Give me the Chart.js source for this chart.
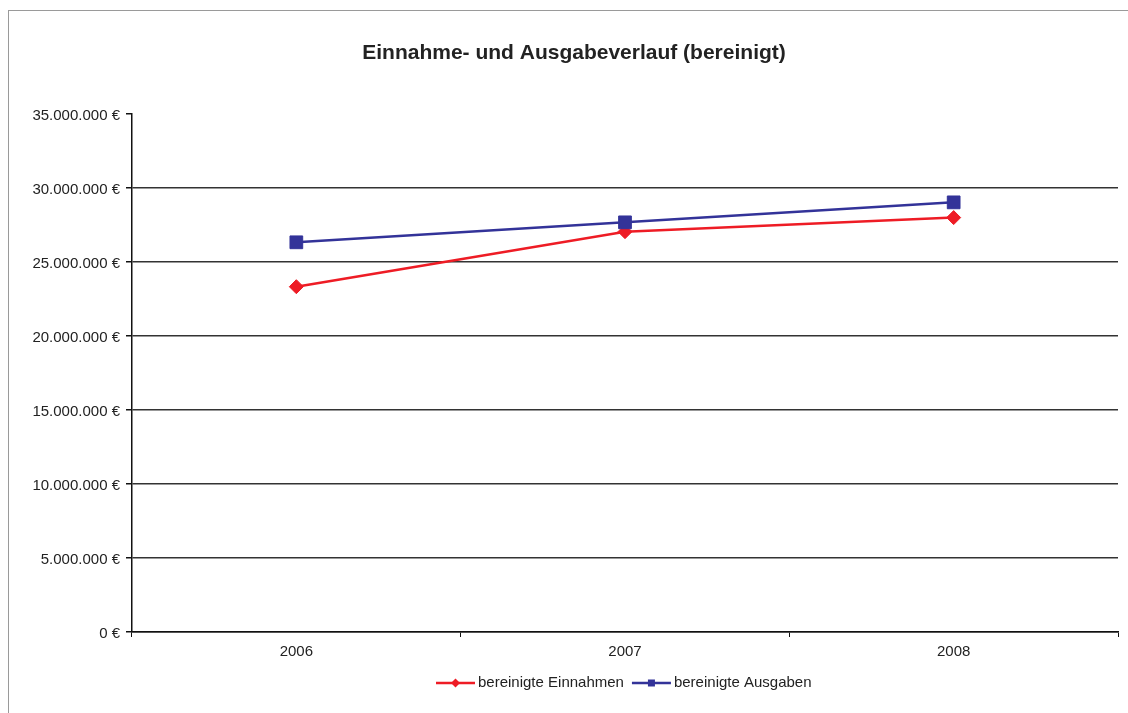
<!DOCTYPE html>
<html>
<head>
<meta charset="utf-8">
<script src="https://cdn.jsdelivr.net/npm/chart.js@4/dist/chart.umd.min.js"></script>
<style>
  html, body { margin: 0; padding: 0; background: #fff; }
  #wrap { width: 1128px; height: 713px; position: relative; }
</style>
</head>
<body>
<div id="wrap"><canvas id="c" width="1128" height="713"></canvas></div>
<script>
// ---- data ----
const chartTitle = 'Einnahme- und Ausgabeverlauf (bereinigt)';
const years = ['2006', '2007', '2008'];
const seriesNames = ['bereinigte Einnahmen', 'bereinigte Ausgaben'];
const einnahmen = [23330000, 27050000, 28000000];
const ausgaben = [26330000, 27680000, 29030000];
const yTicks = [0, 5000000, 10000000, 15000000, 20000000, 25000000, 30000000, 35000000];

const RED = '#ee1c25';
const BLUE = '#333399';
const FONT = "'Liberation Sans', Arial, sans-serif";

function fmtEuro(v) {
  return String(Math.round(v)).replace(/\B(?=(\d{3})+(?!\d))/g, '.') + ' €';
}

const framePlugin = {
  id: 'frame',
  beforeDraw(chart) {
    const ctx = chart.ctx;
    ctx.save();
    ctx.fillStyle = '#fff';
    ctx.fillRect(0, 0, chart.width, chart.height);
    ctx.strokeStyle = '#9a9a9a';
    ctx.lineWidth = 1;
    ctx.strokeRect(8.5, 10.5, 1200, 800);
    ctx.restore();
  },
  afterDraw(chart) {
    const ctx = chart.ctx;
    ctx.save();
    // title
    ctx.font = "bold 21px " + FONT;
    ctx.fillStyle = '#222';
    ctx.textAlign = 'center';
    ctx.textBaseline = 'middle';
    ctx.fillText(chartTitle, 574, 53);
    // legend
    ctx.font = "15px " + FONT;
    ctx.textAlign = 'left';
    const y = 683;
    let x = 436;
    chart.data.datasets.slice().sort((a, b) => a.legendIndex - b.legendIndex).forEach(ds => {
      ctx.strokeStyle = ds.borderColor;
      ctx.lineWidth = 2.5;
      ctx.beginPath();
      ctx.moveTo(x, y);
      ctx.lineTo(x + 39, y);
      ctx.stroke();
      ctx.fillStyle = ds.borderColor;
      const cx = x + 19.5;
      ctx.beginPath();
      if (ds.pointStyle === 'rectRot') {
        ctx.moveTo(cx - 4.5, y); ctx.lineTo(cx, y - 4.5); ctx.lineTo(cx + 4.5, y); ctx.lineTo(cx, y + 4.5);
      } else {
        ctx.rect(cx - 3.5, y - 3.5, 7, 7);
      }
      ctx.closePath();
      ctx.fill();
      ctx.fillStyle = '#222';
      ctx.fillText(ds.label, x + 42, y);
      x += 42 + ctx.measureText(ds.label).width + 8;
    });
    ctx.restore();
  }
};

new Chart(document.getElementById('c'), {
  type: 'line',
  data: {
    labels: years,
    datasets: [
      {
        label: seriesNames[0],
        data: einnahmen,
        legendIndex: 0,
        order: 2,
        borderColor: RED,
        backgroundColor: RED,
        borderWidth: 2.5,
        pointStyle: 'rectRot',
        pointRadius: 7,
        pointBorderWidth: 1,
        pointHoverRadius: 7,
        tension: 0,
        fill: false
      },
      {
        label: seriesNames[1],
        data: ausgaben,
        legendIndex: 1,
        order: 1,
        borderColor: BLUE,
        backgroundColor: BLUE,
        borderWidth: 2.5,
        pointStyle: 'rect',
        pointRadius: 9,
        pointBorderWidth: 1,
        pointHoverRadius: 9,
        tension: 0,
        fill: false
      }
    ]
  },
  options: {
    responsive: false,
    animation: false,
    events: [],
    layout: { padding: { left: 0, top: 114, right: 8, bottom: 51 } },
    plugins: {
      legend: { display: false },
      title: { display: false },
      tooltip: { enabled: false }
    },
    scales: {
      x: {
        type: 'category',
        offset: true,
        afterFit(scale) { scale.height = 30; },
        grid: {
          offset: true,
          drawOnChartArea: false,
          drawTicks: true,
          tickLength: 5,
          color: '#111',
          tickColor: '#111',
          lineWidth: 1
        },
        border: { display: true, color: '#111', width: 1.5 },
        ticks: {
          padding: 6,
          color: '#222',
          font: { family: FONT, size: 15 }
        }
      },
      y: {
        min: 0,
        max: 35000000,
        afterFit(scale) { scale.width = 132; },
        afterBuildTicks(scale) { scale.ticks = yTicks.map(v => ({ value: v })); },
        grid: {
          drawOnChartArea: true,
          drawTicks: true,
          tickLength: 6,
          lineWidth: 1.5,
          color: (c) => (c.tick && c.tick.value === 35000000) ? 'rgba(0,0,0,0)' : '#333',
          tickColor: '#111'
        },
        border: { display: true, color: '#111', width: 1.5 },
        ticks: {
          padding: 6,
          labelOffset: 1.5,
          color: '#222',
          font: { family: FONT, size: 15 },
          callback: (v) => fmtEuro(v)
        }
      }
    }
  },
  plugins: [framePlugin]
});
</script>
</body>
</html>
